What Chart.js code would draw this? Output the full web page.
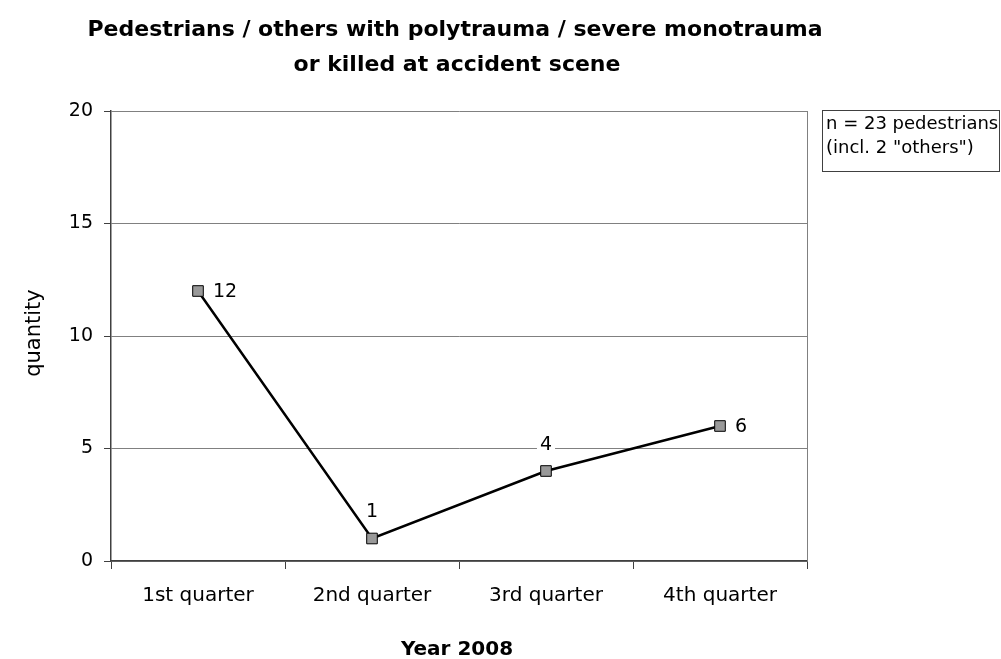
<!DOCTYPE html>
<html>
<head>
<meta charset="utf-8">
<script src="https://cdn.jsdelivr.net/npm/chart.js@4/dist/chart.umd.min.js"></script>
<style>
  html, body { margin: 0; padding: 0; background: #fff; }
  #wrap { width: 1001px; height: 659px; position: relative; }
</style>
</head>
<body>
<div id="wrap"><canvas id="chart" width="1001" height="659"></canvas></div>
<script>
// === Chart data ===
const quarters = ["1st quarter", "2nd quarter", "3rd quarter", "4th quarter"];
const quantities = [12, 1, 4, 6];
const yTicks = [0, 5, 10, 15, 20];
const titleLines = ["Pedestrians / others with polytrauma / severe monotrauma", "or killed at accident scene"];
const noteLines = ["n = 23 pedestrians", "(incl. 2 \"others\")"];

// where each value label sits relative to its point
const labelSide = ["right", "top", "top", "right"];

const FONT = "'DejaVu Sans', sans-serif";

// === Extra text: titles, value labels, note box ===
const decorations = {
  id: "decorations",
  afterDatasetsDraw(chart) {
    const { ctx, chartArea } = chart;
    const meta = chart.getDatasetMeta(0);
    ctx.save();

    // right border of plot
    ctx.strokeStyle = "#808080";
    ctx.lineWidth = 1;
    ctx.beginPath();
    ctx.moveTo(chartArea.right + 0.5, chartArea.top);
    ctx.lineTo(chartArea.right + 0.5, chartArea.bottom);
    ctx.stroke();

    // value labels
    ctx.font = "19px " + FONT;
    ctx.fillStyle = "#000";
    meta.data.forEach((pt, i) => {
      const txt = String(quantities[i]);
      if (labelSide[i] === "right") {
        ctx.textAlign = "left";
        ctx.textBaseline = "middle";
        ctx.fillText(txt, pt.x + 15, pt.y + 1);
      } else {
        const w = ctx.measureText(txt).width;
        ctx.fillStyle = "#fff";
        ctx.fillRect(pt.x - w / 2 - 3, pt.y - 37, w + 6, 20);
        ctx.fillStyle = "#000";
        ctx.textAlign = "center";
        ctx.textBaseline = "middle";
        ctx.fillText(txt, pt.x, pt.y - 26);
      }
    });

    // chart title
    ctx.font = "bold 22px " + FONT;
    ctx.textAlign = "center";
    ctx.textBaseline = "alphabetic";
    ctx.fillText(titleLines[0], 455, 36);
    ctx.fillText(titleLines[1], 457, 71);

    // axis titles
    ctx.textBaseline = "middle";
    ctx.font = "21px " + FONT;
    ctx.save();
    ctx.translate(35, 333);
    ctx.rotate(-Math.PI / 2);
    ctx.fillText("quantity", 0, 0);
    ctx.restore();

    ctx.font = "bold 20px " + FONT;
    ctx.fillText("Year 2008", 457, 650);

    // note box
    ctx.strokeStyle = "#404040";
    ctx.lineWidth = 1;
    ctx.strokeRect(822.5, 110.5, 177, 61);
    ctx.font = "18px " + FONT;
    ctx.textAlign = "left";
    ctx.fillText(noteLines[0], 826, 124);
    ctx.fillText(noteLines[1], 826, 148);

    ctx.restore();
  }
};

const ctx = document.getElementById("chart").getContext("2d");

new Chart(ctx, {
  type: "line",
  data: {
    labels: quarters,
    datasets: [{
      data: quantities,
      borderColor: "#000",
      borderWidth: 2.5,
      tension: 0,
      pointStyle: "rect",
      pointRadius: 7.5,
      pointBackgroundColor: "#999999",
      pointBorderColor: "#000",
      pointBorderWidth: 1,
      fill: false
    }]
  },
  options: {
    responsive: false,
    animation: false,
    devicePixelRatio: 1,
    layout: { padding: { top: 111, right: 194, bottom: 0, left: 0 } },
    plugins: {
      legend: { display: false },
      title: { display: false },
      tooltip: { enabled: false }
    },
    scales: {
      x: {
        offset: true,
        afterFit: s => { s.height = 98; },
        grid: {
          offset: true,
          drawOnChartArea: false,
          tickLength: 8,
          tickColor: "#404040"
        },
        border: { color: "#404040", width: 1.5 },
        ticks: {
          color: "#000",
          padding: 15,
          maxRotation: 0,
          font: { family: FONT, size: 20 }
        }
      },
      y: {
        min: yTicks[0],
        max: yTicks[yTicks.length - 1],
        afterFit: s => { s.width = 111; },
        afterBuildTicks: s => { s.ticks = yTicks.map(v => ({ value: v })); },
        grid: {
          color: "#808080",
          lineWidth: 1,
          tickLength: 7,
          tickColor: "#404040"
        },
        border: { color: "#404040", width: 1.5 },
        ticks: {
          color: "#000",
          padding: 11,
          font: { family: FONT, size: 19 }
        }
      }
    }
  },
  plugins: [decorations]
});
</script>
</body>
</html>
